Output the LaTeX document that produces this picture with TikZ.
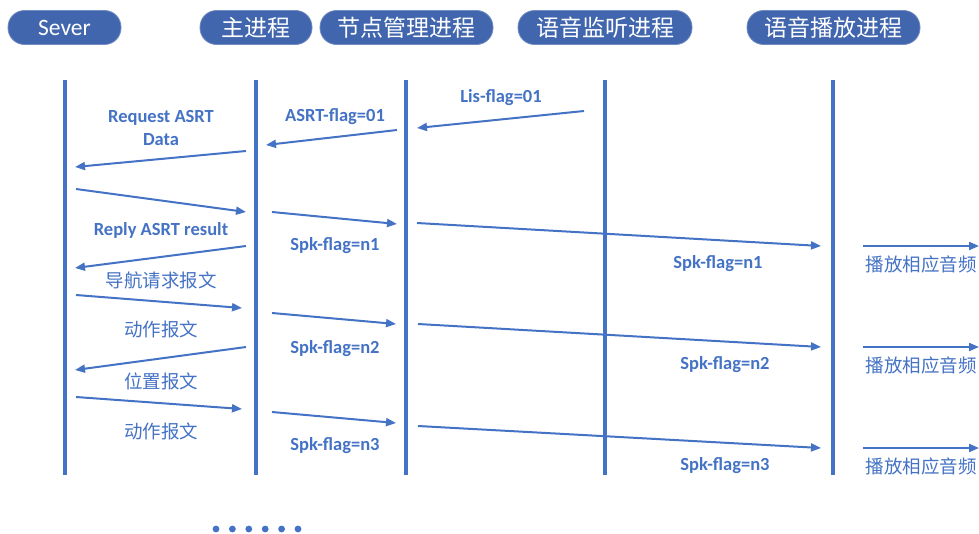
\documentclass[tikz,border=0pt]{standalone}
\usepackage{fontspec}
\setmainfont{Carlito}
\newfontfamily\cjk{Noto Sans CJK SC}
\usetikzlibrary{arrows.meta}
\definecolor{lineblue}{HTML}{4472C4}
\definecolor{pillblue}{HTML}{4166AE}
\begin{document}
\begin{tikzpicture}[x=1pt,y=-1pt,
  pill/.style={rounded corners=16.5pt, fill=pillblue, draw=pillblue!75!white, line width=0.8pt,
    text=white, minimum height=34pt, inner sep=0pt},
  pilllat/.style={pill, font=\fontsize{23.5}{26}\selectfont},
  pillcjk/.style={pill, font=\cjk\fontsize{23}{26}\selectfont},
  life/.style={draw=lineblue, line width=4pt},
  msg/.style={draw=lineblue, line width=2pt, -{Triangle[length=10pt,width=8pt]}},
  lab/.style={text=lineblue, font=\bfseries\fontsize{18.5}{23}\selectfont, inner sep=0pt, align=center},
  labcjk/.style={text=lineblue, font=\cjk\fontsize{18.5}{22}\selectfont, inner sep=0pt},
  dot/.style={fill=lineblue, draw=none}
]
\useasboundingbox (0,0) rectangle (979,533);

% headers
\node[pilllat, minimum width=113pt] (sever) at (64.5,27.5) {Sever};
\node[pillcjk, minimum width=112pt] (main) at (256,27.5) {主进程};
\node[pillcjk, minimum width=173pt] (node) at (406.5,27.5) {节点管理进程};
\node[pillcjk, minimum width=174pt] (lis) at (605,27.5) {语音监听进程};
\node[pillcjk, minimum width=173pt] (spk) at (833.5,27.5) {语音播放进程};

% lifelines
\coordinate (l1t) at (65,80);  \coordinate (l1b) at (65,475);
\coordinate (l2t) at (256,80); \coordinate (l2b) at (256,475);
\coordinate (l3t) at (406,80); \coordinate (l3b) at (406,475);
\coordinate (l4t) at (605,80); \coordinate (l4b) at (605,475);
\coordinate (l5t) at (833,80); \coordinate (l5b) at (833,475);
\foreach \i in {1,...,5} { \draw[life] (l\i t) -- (l\i b); }

% message endpoints
\coordinate (m1s) at (584,111); \coordinate (m1e) at (417,128);
\coordinate (m2s) at (397,130); \coordinate (m2e) at (266,145);
\coordinate (m3s) at (246,151); \coordinate (m3e) at (75,167);
\coordinate (m4s) at (76,189);  \coordinate (m4e) at (246,212);
\coordinate (m5s) at (272,212); \coordinate (m5e) at (397,224);
\coordinate (m6s) at (417,223); \coordinate (m6e) at (821,246);
\coordinate (m7s) at (863,246); \coordinate (m7e) at (979,246);
\coordinate (m8s) at (246,246); \coordinate (m8e) at (75,268);
\coordinate (m9s) at (76,295);  \coordinate (m9e) at (242,308);
\coordinate (m10s) at (272,313); \coordinate (m10e) at (396,324);
\coordinate (m11s) at (418,324); \coordinate (m11e) at (821,347);
\coordinate (m12s) at (863,347); \coordinate (m12e) at (979,347);
\coordinate (m13s) at (246,347); \coordinate (m13e) at (75,370);
\coordinate (m14s) at (76,397);  \coordinate (m14e) at (242,409);
\coordinate (m15s) at (272,412); \coordinate (m15e) at (396,423);
\coordinate (m16s) at (418,426); \coordinate (m16e) at (821,448);
\coordinate (m17s) at (863,448); \coordinate (m17e) at (979,448);
\foreach \i in {1,...,17} { \draw[msg] (m\i s) -- (m\i e); }

% labels
\node[lab] (t1) at (501,98) {Lis-flag=01};
\node[lab] (t2) at (335,117) {ASRT-flag=01};
\node[lab] (t3) at (161,128) {Request ASRT\\Data};
\node[lab] (t5) at (335,246) {Spk-flag=n1};
\node[lab] (t6) at (718,264) {Spk-flag=n1};
\node[labcjk] (t7) at (921,264) {播放相应音频};
\node[lab] (t8) at (161,230) {Reply ASRT result};
\node[labcjk] (t9) at (161,280) {导航请求报文};
\node[labcjk] (t10) at (161,329) {动作报文};
\node[lab] (t11) at (335,349) {Spk-flag=n2};
\node[lab] (t12) at (725,365) {Spk-flag=n2};
\node[labcjk] (t13) at (921,365) {播放相应音频};
\node[labcjk] (t14) at (161,381) {位置报文};
\node[labcjk] (t15) at (161,431) {动作报文};
\node[lab] (t16) at (335,446) {Spk-flag=n3};
\node[lab] (t17) at (725,466) {Spk-flag=n3};
\node[labcjk] (t18) at (921,466) {播放相应音频};

% ellipsis dots
\foreach \k in {0,...,5} { \fill[dot] (216+16.4*\k,529) circle (3.4pt); }
\end{tikzpicture}
\end{document}
